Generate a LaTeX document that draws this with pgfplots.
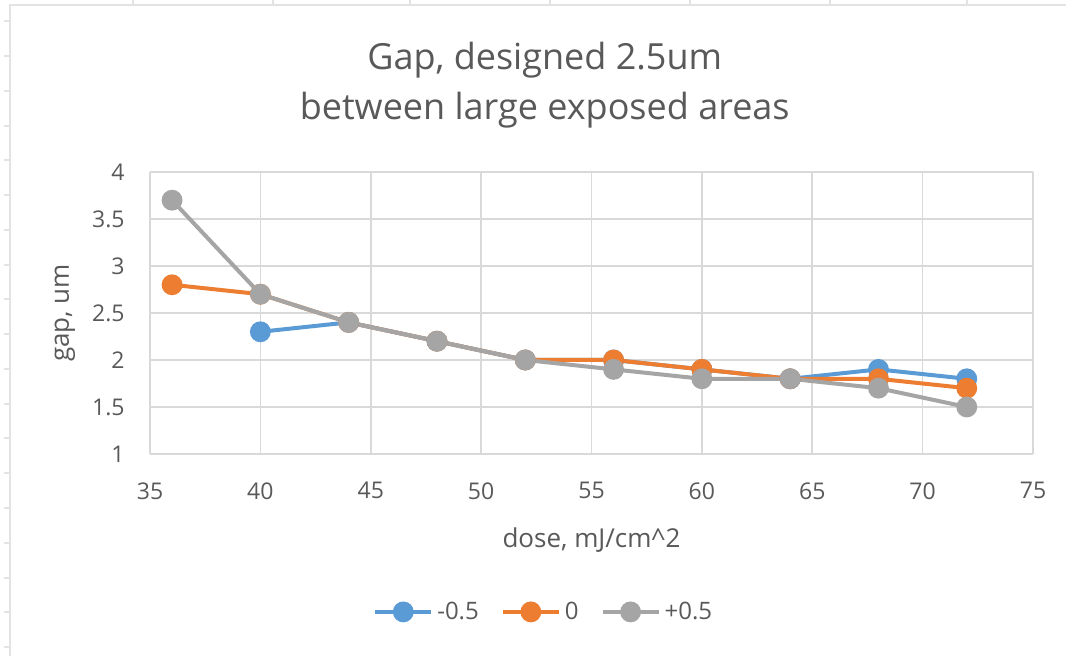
\documentclass[border=0pt]{standalone}
\usepackage{pgfplots}
\pgfplotsset{compat=1.18}
\usepackage{fontspec}
\setmainfont{Open Sans}
\definecolor{sBlue}{HTML}{5B9BD5}
\definecolor{sOrange}{HTML}{ED7D31}
\definecolor{sGray}{HTML}{A5A5A5}
\definecolor{txt}{HTML}{595959}
\definecolor{grd}{HTML}{D9D9D9}
\definecolor{sheet}{HTML}{E3E3E3}
\begin{document}
\begin{tikzpicture}
% page: 1066x656 px, 1px = 0.5pt
\path[use as bounding box, fill=white] (0,0) rectangle (533pt,328pt);
% spreadsheet cells around the chart
\foreach \x in {133,273,410,550,690,830,967}
  \draw[sheet, line width=0.6pt] (\x*0.5pt,328pt) -- (\x*0.5pt,325.5pt);
\foreach \y in {21,56,91,126,160,195,230,265,299,334,369,404,438,473,508,543,578,612,647}
  \draw[sheet, line width=0.6pt] (2pt,328pt-\y*0.5pt) -- (5pt,328pt-\y*0.5pt);
\draw[sheet, line width=0.8pt] (5pt,0pt) -- (5pt,325.5pt) -- (533pt,325.5pt);

\begin{axis}[
  at={(75pt,101pt)}, anchor=south west,
  scale only axis, width=441.5pt, height=141pt,
  xmin=35, xmax=75, ymin=1, ymax=4,
  xtick={35,40,...,75}, ytick={1,1.5,...,4},
  /pgf/number format/fixed, /pgf/number format/precision=1,
  /pgf/number format/assume math mode=true,
  grid=major, major grid style={grd, line width=0.8pt},
  axis line style={grd, line width=0.8pt},
  axis x line*=bottom, axis y line*=left,
  major tick length=0pt,
  tick label style={font=\fontsize{11.5}{13}\selectfont, text=txt},
  yticklabel style={anchor=east, inner sep=0pt, xshift=-12.5pt},
  xticklabel style={anchor=north, inner sep=0pt, yshift=-14pt},
  xlabel={dose, mJ/cm\textasciicircum 2},
  ylabel={gap, um},
  label style={font=\fontsize{13}{15}\selectfont, text=txt},
  xlabel style={at={(axis description cs:0.5,-0.305)}, anchor=center},
  ylabel style={at={(axis description cs:-0.0963,0.5)}, anchor=center},
  every axis plot/.append style={line width=2pt},
  mark size=4.2pt,
  legend columns=3,
  legend style={at={(axis description cs:0.447,-0.56)}, anchor=center,
    draw=none, fill=none, font=\fontsize{12}{14}\selectfont, text=txt,
    /tikz/every even column/.append style={column sep=9pt}},
  legend image code/.code={%
    \draw[mark repeat=2, mark phase=2] plot coordinates {(0pt,0pt) (14pt,0pt) (28pt,0pt)};},
  clip=false,
]
\addplot[sBlue, mark=*, mark options={solid, fill=sBlue, draw=sBlue}] coordinates {
  (40,2.3) (44,2.4) (48,2.2) (52,2.0) (56,2.0) (60,1.9) (64,1.8) (68,1.9) (72,1.8)};
\addlegendentry{-0.5}
\addplot[sOrange, mark=*, mark options={solid, fill=sOrange, draw=sOrange}] coordinates {
  (36,2.8) (40,2.7) (44,2.4) (48,2.2) (52,2.0) (56,2.0) (60,1.9) (64,1.8) (68,1.8) (72,1.7)};
\addlegendentry{0}
\addplot[sGray, mark=*, mark options={solid, fill=sGray, draw=sGray}] coordinates {
  (36,3.7) (40,2.7) (44,2.4) (48,2.2) (52,2.0) (56,1.9) (60,1.8) (64,1.8) (68,1.7) (72,1.5)};
\addlegendentry{+0.5}
\node[text=txt, align=center, font=\fontsize{18}{25}\selectfont]
  at (axis description cs:0.447,1.309) {Gap, designed 2.5um\\between large exposed areas};
\end{axis}
\end{tikzpicture}
\end{document}
